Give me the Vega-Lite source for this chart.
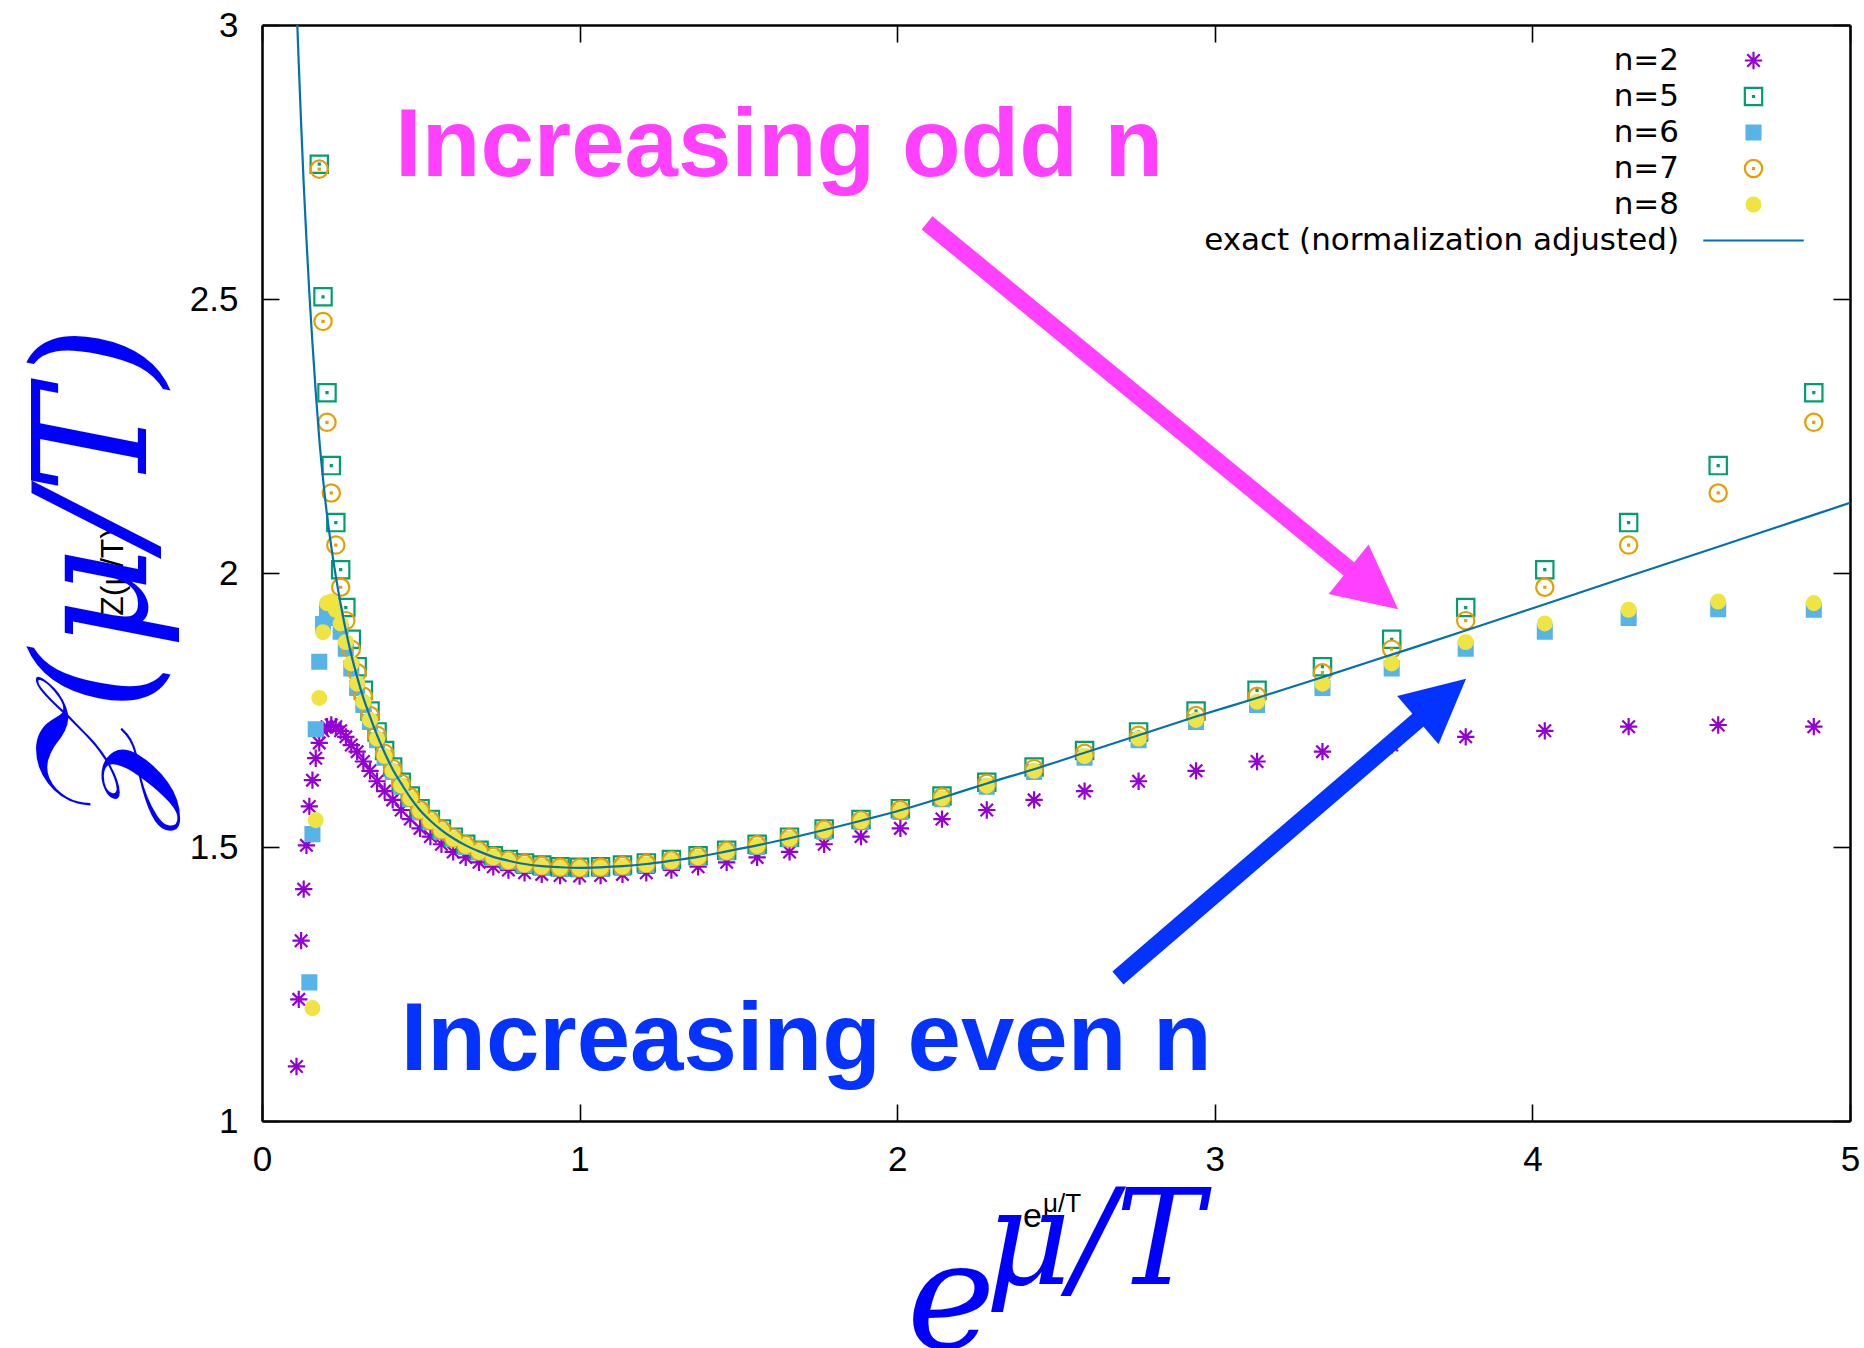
{
"$schema":"https://vega.github.io/schema/vega-lite/v6.json",
"width":1588,"height":1096,
"autosize":{"type":"none"},
"padding":{"left":262,"top":25,"right":14,"bottom":227},
"background":"white",
"config":{"view":{"stroke":null}},
"resolve":{"axis":{"x":"independent","y":"independent"}},
"encoding":{
 "x":{"field":"x","type":"quantitative","scale":{"domain":[0,5],"nice":false,"zero":false},"axis":null},
 "y":{"field":"y","type":"quantitative","scale":{"domain":[1,3],"nice":false,"zero":false},"axis":null}
},
"datasets":{
"pts":[
{"series":"n=2","x":4.886,"y":1.7195},{"series":"n=2","x":4.585,"y":1.7226},{"series":"n=2","x":4.303,"y":1.7195},{"series":"n=2","x":4.039,"y":1.712},{"series":"n=2","x":3.790,"y":1.701},{"series":"n=2","x":3.557,"y":1.686},{"series":"n=2","x":3.339,"y":1.674},{"series":"n=2","x":3.133,"y":1.656},{"series":"n=2","x":2.941,"y":1.639},{"series":"n=2","x":2.760,"y":1.620},{"series":"n=2","x":2.590,"y":1.602},{"series":"n=2","x":2.431,"y":1.586},{"series":"n=2","x":2.282,"y":1.5675},{"series":"n=2","x":2.141,"y":1.551},{"series":"n=2","x":2.010,"y":1.534},{"series":"n=2","x":1.886,"y":1.519},{"series":"n=2","x":1.770,"y":1.505},{"series":"n=2","x":1.661,"y":1.491},{"series":"n=2","x":1.559,"y":1.481},{"series":"n=2","x":1.463,"y":1.472},{"series":"n=2","x":1.373,"y":1.464},{"series":"n=2","x":1.289,"y":1.458},{"series":"n=2","x":1.210,"y":1.453},{"series":"n=2","x":1.135,"y":1.450},{"series":"n=2","x":1.066,"y":1.448},{"series":"n=2","x":1.000,"y":1.447},{"series":"n=2","x":0.9385,"y":1.448},{"series":"n=2","x":0.8808,"y":1.450},{"series":"n=2","x":0.8267,"y":1.453},{"series":"n=2","x":0.7759,"y":1.458},{"series":"n=2","x":0.7282,"y":1.464},{"series":"n=2","x":0.6834,"y":1.472},{"series":"n=2","x":0.6414,"y":1.481},{"series":"n=2","x":0.6020,"y":1.491},{"series":"n=2","x":0.5650,"y":1.505},{"series":"n=2","x":0.5302,"y":1.519},{"series":"n=2","x":0.4976,"y":1.534},{"series":"n=2","x":0.4670,"y":1.551},{"series":"n=2","x":0.4383,"y":1.5675},{"series":"n=2","x":0.4114,"y":1.586},{"series":"n=2","x":0.3861,"y":1.602},{"series":"n=2","x":0.3623,"y":1.620},{"series":"n=2","x":0.3401,"y":1.639},{"series":"n=2","x":0.3192,"y":1.656},{"series":"n=2","x":0.2996,"y":1.674},{"series":"n=2","x":0.2812,"y":1.686},{"series":"n=2","x":0.2639,"y":1.701},{"series":"n=2","x":0.2477,"y":1.712},{"series":"n=2","x":0.2324,"y":1.7195},{"series":"n=2","x":0.2181,"y":1.7226},{"series":"n=2","x":0.2047,"y":1.7195},{"series":"n=2","x":0.1921,"y":1.712},{"series":"n=2","x":0.1803,"y":1.690},{"series":"n=2","x":0.1692,"y":1.662},{"series":"n=2","x":0.1588,"y":1.622},{"series":"n=2","x":0.1491,"y":1.574},{"series":"n=2","x":0.1399,"y":1.503},{"series":"n=2","x":0.1313,"y":1.423},{"series":"n=2","x":0.1232,"y":1.329},{"series":"n=2","x":0.1157,"y":1.222},{"series":"n=2","x":0.1086,"y":1.0995},
{"series":"n=5","x":4.886,"y":2.329},{"series":"n=5","x":4.585,"y":2.196},{"series":"n=5","x":4.303,"y":2.092},{"series":"n=5","x":4.039,"y":2.006},{"series":"n=5","x":3.790,"y":1.937},{"series":"n=5","x":3.557,"y":1.879},{"series":"n=5","x":3.339,"y":1.829},{"series":"n=5","x":3.133,"y":1.786},{"series":"n=5","x":2.941,"y":1.748},{"series":"n=5","x":2.760,"y":1.710},{"series":"n=5","x":2.590,"y":1.676},{"series":"n=5","x":2.431,"y":1.646},{"series":"n=5","x":2.282,"y":1.618},{"series":"n=5","x":2.141,"y":1.593},{"series":"n=5","x":2.010,"y":1.570},{"series":"n=5","x":1.886,"y":1.550},{"series":"n=5","x":1.770,"y":1.533},{"series":"n=5","x":1.661,"y":1.518},{"series":"n=5","x":1.559,"y":1.505},{"series":"n=5","x":1.463,"y":1.494},{"series":"n=5","x":1.373,"y":1.484},{"series":"n=5","x":1.289,"y":1.477},{"series":"n=5","x":1.210,"y":1.471},{"series":"n=5","x":1.135,"y":1.467},{"series":"n=5","x":1.066,"y":1.464},{"series":"n=5","x":1.000,"y":1.463},{"series":"n=5","x":0.9385,"y":1.464},{"series":"n=5","x":0.8808,"y":1.467},{"series":"n=5","x":0.8267,"y":1.471},{"series":"n=5","x":0.7759,"y":1.477},{"series":"n=5","x":0.7282,"y":1.484},{"series":"n=5","x":0.6834,"y":1.494},{"series":"n=5","x":0.6414,"y":1.505},{"series":"n=5","x":0.6020,"y":1.518},{"series":"n=5","x":0.5650,"y":1.533},{"series":"n=5","x":0.5302,"y":1.550},{"series":"n=5","x":0.4976,"y":1.570},{"series":"n=5","x":0.4670,"y":1.593},{"series":"n=5","x":0.4383,"y":1.618},{"series":"n=5","x":0.4114,"y":1.646},{"series":"n=5","x":0.3861,"y":1.676},{"series":"n=5","x":0.3623,"y":1.710},{"series":"n=5","x":0.3401,"y":1.748},{"series":"n=5","x":0.3192,"y":1.786},{"series":"n=5","x":0.2996,"y":1.829},{"series":"n=5","x":0.2812,"y":1.879},{"series":"n=5","x":0.2639,"y":1.937},{"series":"n=5","x":0.2477,"y":2.006},{"series":"n=5","x":0.2324,"y":2.092},{"series":"n=5","x":0.2181,"y":2.196},{"series":"n=5","x":0.2047,"y":2.329},{"series":"n=5","x":0.1921,"y":2.504},{"series":"n=5","x":0.1803,"y":2.746},
{"series":"n=6","x":4.886,"y":1.933},{"series":"n=6","x":4.585,"y":1.934},{"series":"n=6","x":4.303,"y":1.918},{"series":"n=6","x":4.039,"y":1.893},{"series":"n=6","x":3.790,"y":1.862},{"series":"n=6","x":3.557,"y":1.826},{"series":"n=6","x":3.339,"y":1.790},{"series":"n=6","x":3.133,"y":1.759},{"series":"n=6","x":2.941,"y":1.728},{"series":"n=6","x":2.760,"y":1.695},{"series":"n=6","x":2.590,"y":1.663},{"series":"n=6","x":2.431,"y":1.637},{"series":"n=6","x":2.282,"y":1.610},{"series":"n=6","x":2.141,"y":1.587},{"series":"n=6","x":2.010,"y":1.564},{"series":"n=6","x":1.886,"y":1.545},{"series":"n=6","x":1.770,"y":1.528},{"series":"n=6","x":1.661,"y":1.514},{"series":"n=6","x":1.559,"y":1.500},{"series":"n=6","x":1.463,"y":1.490},{"series":"n=6","x":1.373,"y":1.480},{"series":"n=6","x":1.289,"y":1.473},{"series":"n=6","x":1.210,"y":1.467},{"series":"n=6","x":1.135,"y":1.463},{"series":"n=6","x":1.066,"y":1.461},{"series":"n=6","x":1.000,"y":1.460},{"series":"n=6","x":0.9385,"y":1.461},{"series":"n=6","x":0.8808,"y":1.463},{"series":"n=6","x":0.8267,"y":1.467},{"series":"n=6","x":0.7759,"y":1.473},{"series":"n=6","x":0.7282,"y":1.480},{"series":"n=6","x":0.6834,"y":1.490},{"series":"n=6","x":0.6414,"y":1.500},{"series":"n=6","x":0.6020,"y":1.514},{"series":"n=6","x":0.5650,"y":1.528},{"series":"n=6","x":0.5302,"y":1.545},{"series":"n=6","x":0.4976,"y":1.564},{"series":"n=6","x":0.4670,"y":1.587},{"series":"n=6","x":0.4383,"y":1.610},{"series":"n=6","x":0.4114,"y":1.637},{"series":"n=6","x":0.3861,"y":1.663},{"series":"n=6","x":0.3623,"y":1.695},{"series":"n=6","x":0.3401,"y":1.728},{"series":"n=6","x":0.3192,"y":1.759},{"series":"n=6","x":0.2996,"y":1.790},{"series":"n=6","x":0.2812,"y":1.826},{"series":"n=6","x":0.2639,"y":1.862},{"series":"n=6","x":0.2477,"y":1.893},{"series":"n=6","x":0.2324,"y":1.918},{"series":"n=6","x":0.2181,"y":1.934},{"series":"n=6","x":0.2047,"y":1.933},{"series":"n=6","x":0.1921,"y":1.907},{"series":"n=6","x":0.1803,"y":1.838},{"series":"n=6","x":0.1692,"y":1.715},{"series":"n=6","x":0.1588,"y":1.5235},{"series":"n=6","x":0.1491,"y":1.253},
{"series":"n=7","x":4.886,"y":2.275},{"series":"n=7","x":4.585,"y":2.146},{"series":"n=7","x":4.303,"y":2.051},{"series":"n=7","x":4.039,"y":1.974},{"series":"n=7","x":3.790,"y":1.913},{"series":"n=7","x":3.557,"y":1.861},{"series":"n=7","x":3.339,"y":1.818},{"series":"n=7","x":3.133,"y":1.775},{"series":"n=7","x":2.941,"y":1.740},{"series":"n=7","x":2.760,"y":1.704},{"series":"n=7","x":2.590,"y":1.671},{"series":"n=7","x":2.431,"y":1.643},{"series":"n=7","x":2.282,"y":1.616},{"series":"n=7","x":2.141,"y":1.591},{"series":"n=7","x":2.010,"y":1.568},{"series":"n=7","x":1.886,"y":1.549},{"series":"n=7","x":1.770,"y":1.532},{"series":"n=7","x":1.661,"y":1.517},{"series":"n=7","x":1.559,"y":1.504},{"series":"n=7","x":1.463,"y":1.493},{"series":"n=7","x":1.373,"y":1.483},{"series":"n=7","x":1.289,"y":1.476},{"series":"n=7","x":1.210,"y":1.470},{"series":"n=7","x":1.135,"y":1.466},{"series":"n=7","x":1.066,"y":1.463},{"series":"n=7","x":1.000,"y":1.462},{"series":"n=7","x":0.9385,"y":1.463},{"series":"n=7","x":0.8808,"y":1.466},{"series":"n=7","x":0.8267,"y":1.470},{"series":"n=7","x":0.7759,"y":1.476},{"series":"n=7","x":0.7282,"y":1.483},{"series":"n=7","x":0.6834,"y":1.493},{"series":"n=7","x":0.6414,"y":1.504},{"series":"n=7","x":0.6020,"y":1.517},{"series":"n=7","x":0.5650,"y":1.532},{"series":"n=7","x":0.5302,"y":1.549},{"series":"n=7","x":0.4976,"y":1.568},{"series":"n=7","x":0.4670,"y":1.591},{"series":"n=7","x":0.4383,"y":1.616},{"series":"n=7","x":0.4114,"y":1.643},{"series":"n=7","x":0.3861,"y":1.671},{"series":"n=7","x":0.3623,"y":1.704},{"series":"n=7","x":0.3401,"y":1.740},{"series":"n=7","x":0.3192,"y":1.775},{"series":"n=7","x":0.2996,"y":1.818},{"series":"n=7","x":0.2812,"y":1.861},{"series":"n=7","x":0.2639,"y":1.913},{"series":"n=7","x":0.2477,"y":1.974},{"series":"n=7","x":0.2324,"y":2.051},{"series":"n=7","x":0.2181,"y":2.146},{"series":"n=7","x":0.2047,"y":2.275},{"series":"n=7","x":0.1921,"y":2.459},{"series":"n=7","x":0.1803,"y":2.737},
{"series":"n=8","x":4.886,"y":1.945},{"series":"n=8","x":4.585,"y":1.948},{"series":"n=8","x":4.303,"y":1.933},{"series":"n=8","x":4.039,"y":1.908},{"series":"n=8","x":3.790,"y":1.874},{"series":"n=8","x":3.557,"y":1.835},{"series":"n=8","x":3.339,"y":1.798},{"series":"n=8","x":3.133,"y":1.765},{"series":"n=8","x":2.941,"y":1.732},{"series":"n=8","x":2.760,"y":1.698},{"series":"n=8","x":2.590,"y":1.666},{"series":"n=8","x":2.431,"y":1.639},{"series":"n=8","x":2.282,"y":1.612},{"series":"n=8","x":2.141,"y":1.589},{"series":"n=8","x":2.010,"y":1.566},{"series":"n=8","x":1.886,"y":1.547},{"series":"n=8","x":1.770,"y":1.530},{"series":"n=8","x":1.661,"y":1.515},{"series":"n=8","x":1.559,"y":1.502},{"series":"n=8","x":1.463,"y":1.491},{"series":"n=8","x":1.373,"y":1.481},{"series":"n=8","x":1.289,"y":1.474},{"series":"n=8","x":1.210,"y":1.468},{"series":"n=8","x":1.135,"y":1.464},{"series":"n=8","x":1.066,"y":1.462},{"series":"n=8","x":1.000,"y":1.461},{"series":"n=8","x":0.9385,"y":1.462},{"series":"n=8","x":0.8808,"y":1.464},{"series":"n=8","x":0.8267,"y":1.468},{"series":"n=8","x":0.7759,"y":1.474},{"series":"n=8","x":0.7282,"y":1.481},{"series":"n=8","x":0.6834,"y":1.491},{"series":"n=8","x":0.6414,"y":1.502},{"series":"n=8","x":0.6020,"y":1.515},{"series":"n=8","x":0.5650,"y":1.530},{"series":"n=8","x":0.5302,"y":1.547},{"series":"n=8","x":0.4976,"y":1.566},{"series":"n=8","x":0.4670,"y":1.589},{"series":"n=8","x":0.4383,"y":1.612},{"series":"n=8","x":0.4114,"y":1.639},{"series":"n=8","x":0.3861,"y":1.666},{"series":"n=8","x":0.3623,"y":1.698},{"series":"n=8","x":0.3401,"y":1.732},{"series":"n=8","x":0.3192,"y":1.765},{"series":"n=8","x":0.2996,"y":1.798},{"series":"n=8","x":0.2812,"y":1.835},{"series":"n=8","x":0.2639,"y":1.874},{"series":"n=8","x":0.2477,"y":1.908},{"series":"n=8","x":0.2324,"y":1.933},{"series":"n=8","x":0.2181,"y":1.948},{"series":"n=8","x":0.2047,"y":1.945},{"series":"n=8","x":0.1921,"y":1.892},{"series":"n=8","x":0.1803,"y":1.772},{"series":"n=8","x":0.1692,"y":1.549},{"series":"n=8","x":0.1588,"y":1.206}
],
"exact":[
{"x":0.1086,"y":3.04},{"x":0.1157,"y":2.93},{"x":0.1232,"y":2.82},{"x":0.1313,"y":2.71},{"x":0.1399,"y":2.61},{"x":0.1491,"y":2.51},{"x":0.1588,"y":2.42},{"x":0.1692,"y":2.33},{"x":0.1803,"y":2.245},{"x":0.1921,"y":2.172},{"x":0.2047,"y":2.106},{"x":0.2181,"y":2.048},{"x":0.2324,"y":1.994},{"x":0.2477,"y":1.943},{"x":0.2639,"y":1.895},{"x":0.2812,"y":1.851},{"x":0.2996,"y":1.810},{"x":0.3192,"y":1.772},{"x":0.3401,"y":1.738},{"x":0.3623,"y":1.704},{"x":0.3861,"y":1.672},{"x":0.4114,"y":1.642},{"x":0.4383,"y":1.616},{"x":0.4670,"y":1.590},{"x":0.4976,"y":1.567},{"x":0.5302,"y":1.548},{"x":0.5650,"y":1.531},{"x":0.6020,"y":1.516},{"x":0.6414,"y":1.503},{"x":0.6834,"y":1.492},{"x":0.7282,"y":1.482},{"x":0.7759,"y":1.475},{"x":0.8267,"y":1.469},{"x":0.8808,"y":1.465},{"x":0.9385,"y":1.463},{"x":1.0,"y":1.462},{"x":1.066,"y":1.463},{"x":1.135,"y":1.465},{"x":1.210,"y":1.469},{"x":1.289,"y":1.475},{"x":1.373,"y":1.482},{"x":1.463,"y":1.492},{"x":1.559,"y":1.503},{"x":1.661,"y":1.516},{"x":1.770,"y":1.531},{"x":1.886,"y":1.548},{"x":2.010,"y":1.567},{"x":2.141,"y":1.590},{"x":2.282,"y":1.616},{"x":2.431,"y":1.642},{"x":2.590,"y":1.672},{"x":2.760,"y":1.704},{"x":2.941,"y":1.738},{"x":3.133,"y":1.772},{"x":3.339,"y":1.810},{"x":3.557,"y":1.851},{"x":3.790,"y":1.895},{"x":4.039,"y":1.943},{"x":4.303,"y":1.994},{"x":4.585,"y":2.048},{"x":4.886,"y":2.106},{"x":5.0,"y":2.128}
]
},
"layer":[
{
 "data":{"name":"pts"},
 "mark":{"type":"point","filled":false,"size":300,"strokeWidth":2.2,"opacity":1},
 "encoding":{
  "x":{"field":"x","type":"quantitative","scale":{"domain":[0,5],"nice":false,"zero":false},
       "axis":{"orient":"top","values":[0,1,2,3,4,5],"labels":false,"ticks":true,"tickSize":-17,"tickWidth":1.6,"tickColor":"#000000","domain":true,"domainColor":"#000000","domainWidth":2.5,"grid":false,"title":null}},
  "y":{"field":"y","type":"quantitative","scale":{"domain":[1,3],"nice":false,"zero":false},
       "axis":{"orient":"right","values":[1,1.5,2,2.5,3],"labels":false,"ticks":true,"tickSize":-17,"tickWidth":1.6,"tickColor":"#000000","domain":true,"domainColor":"#000000","domainWidth":2.5,"grid":false,"title":null}},
  "color":{"field":"series","type":"nominal",
    "scale":{"domain":["n=2","n=5","n=6","n=7","n=8","exact (normalization adjusted)"],"range":["#9400d3","#009e73","#56b4e9","#e69f00","#f0e442","#0072b2"]},
    "legend":{"title":null,"orient":"none","legendX":1476,"legendY":20,"labelAlign":"right","labelOffset":-90,"labelFont":"DejaVu Sans","labelFontSize":31,"labelColor":"#000000","labelLimit":2000,"symbolSize":300,"symbolStrokeWidth":2.2,"rowPadding":4,"padding":0}},
  "fill":{"field":"series","type":"nominal",
    "scale":{"domain":["n=2","n=5","n=6","n=7","n=8","exact (normalization adjusted)"],"range":["transparent","transparent","#56b4e9","transparent","#f0e442","transparent"]},
    "legend":{"title":null,"orient":"none","legendX":1476,"legendY":20,"labelAlign":"right","labelOffset":-90,"labelFont":"DejaVu Sans","labelFontSize":31,"labelColor":"#000000","labelLimit":2000,"symbolSize":300,"symbolStrokeWidth":2.2,"rowPadding":4,"padding":0}},
  "shape":{"field":"series","type":"nominal",
    "scale":{"domain":["n=2","n=5","n=6","n=7","n=8","exact (normalization adjusted)"],
      "range":["M-1,0H1M0,-1V1M-0.72,-0.72L0.72,0.72M-0.72,0.72L0.72,-0.72",
               "M-1,-1H1V1H-1ZM-0.06,-0.06H0.06V0.06H-0.06Z",
               "M-0.8,-0.8H0.8V0.8H-0.8Z",
               "M1,0A1,1,0,1,1,-1,0A1,1,0,1,1,1,0ZM-0.06,-0.06H0.06V0.06H-0.06Z",
               "M0.8,0A0.8,0.8,0,1,1,-0.8,0A0.8,0.8,0,1,1,0.8,0Z",
               "M-5.8,0H5.8"]},
    "legend":{"title":null,"orient":"none","legendX":1476,"legendY":20,"labelAlign":"right","labelOffset":-90,"labelFont":"DejaVu Sans","labelFontSize":31,"labelColor":"#000000","labelLimit":2000,"symbolSize":300,"symbolStrokeWidth":2.2,"rowPadding":4,"padding":0}}
 }
},
{
 "data":{"name":"exact"},
 "mark":{"type":"line","color":"#0072b2","strokeWidth":2.2,"clip":true,"interpolate":"monotone"},
 "encoding":{
  "x":{"field":"x","type":"quantitative","scale":{"domain":[0,5],"nice":false,"zero":false},
       "axis":{"orient":"bottom","values":[0,1,2,3,4,5],"format":"d","labelFont":"Liberation Sans","labelFontSize":35,"labelColor":"#000000","labelPadding":38,"labelFlush":false,"tickSize":-17,"tickWidth":1.6,"tickColor":"#000000","domainColor":"#000000","domainWidth":2.5,"grid":false,"title":null}},
  "y":{"field":"y","type":"quantitative","scale":{"domain":[1,3],"nice":false,"zero":false},
       "axis":{"orient":"left","values":[1,1.5,2,2.5,3],"format":"~g","labelFont":"Liberation Sans","labelFontSize":35,"labelColor":"#000000","labelPadding":41,"labelFlush":false,"tickSize":-17,"tickWidth":1.6,"tickColor":"#000000","domainColor":"#000000","domainWidth":2.5,"grid":false,"title":null}}
 }
},
{
 "data":{"values":[{"x":2.094,"y":2.639,"x2":3.503,"y2":1.969}]},
 "mark":{"type":"rule","color":"#ff40ff","strokeWidth":17,"strokeCap":"butt"},
 "encoding":{"x2":{"field":"x2"},"y2":{"field":"y2"}}
},
{
 "data":{"values":[{"x":3.577,"y":1.934}]},
 "mark":{"type":"point","shape":"M0,0L-2,-1L-2,1Z","size":4032,"angle":38.9,"filled":true,"color":"#ff40ff","opacity":1,"strokeWidth":0}
},
{
 "data":{"values":[{"x":2.695,"y":1.261,"x2":3.719,"y2":1.771}]},
 "mark":{"type":"rule","color":"#0433ff","strokeWidth":17,"strokeCap":"butt"},
 "encoding":{"x2":{"field":"x2"},"y2":{"field":"y2"}}
},
{
 "data":{"values":[{"x":3.791,"y":1.807}]},
 "mark":{"type":"point","shape":"M0,0L-2,-1L-2,1Z","size":4032,"angle":-40.7,"filled":true,"color":"#0433ff","opacity":1,"strokeWidth":0}
},
{
 "data":{"values":[{"x":0.419,"y":2.7245,"t":"Increasing odd n"}]},
 "mark":{"type":"text","align":"left","baseline":"alphabetic","font":"Liberation Sans","fontWeight":"bold","fontSize":96,"color":"#ff40ff"},
 "encoding":{"text":{"field":"t"}}
},
{
 "data":{"values":[{"x":0.4365,"y":1.093,"t":"Increasing even n"}]},
 "mark":{"type":"text","align":"left","baseline":"alphabetic","font":"Liberation Sans","fontWeight":"bold","fontSize":96,"color":"#0433ff"},
 "encoding":{"text":{"field":"t"}}
},
{
 "data":{"values":[{"x":-0.469,"y":2.002,"t":"Z(μ/T)"}]},
 "mark":{"type":"text","align":"center","baseline":"middle","angle":270,"font":"Liberation Sans","fontSize":32,"color":"#000000"},
 "encoding":{"text":{"field":"t"}}
},
{
 "data":{"values":[{"x":-0.512,"y":1.99,"t":"𝒵(μ/T)"}]},
 "mark":{"type":"text","align":"center","baseline":"middle","angle":270,"font":"DejaVu Serif","fontStyle":"italic","fontSize":158,"color":"#0000ff"},
 "encoding":{"text":{"field":"t"}}
},
{
 "data":{"values":[{"x":2.396,"y":0.807,"t":"e"}]},
 "mark":{"type":"text","align":"left","baseline":"alphabetic","font":"Liberation Sans","fontSize":34,"color":"#000000"},
 "encoding":{"text":{"field":"t"}}
},
{
 "data":{"values":[{"x":2.459,"y":0.8345,"t":"μ/T"}]},
 "mark":{"type":"text","align":"left","baseline":"alphabetic","font":"Liberation Sans","fontSize":26,"color":"#000000"},
 "encoding":{"text":{"field":"t"}}
},
{
 "data":{"values":[{"x":2.03,"y":0.585,"t":"e"}]},
 "mark":{"type":"text","align":"left","baseline":"alphabetic","font":"DejaVu Serif","fontStyle":"italic","fontSize":150,"color":"#0000ff"},
 "encoding":{"text":{"field":"t"}}
},
{
 "data":{"values":[{"x":2.277,"y":0.703,"t":"μ/T"}]},
 "mark":{"type":"text","align":"left","baseline":"alphabetic","font":"DejaVu Serif","fontStyle":"italic","fontSize":132,"color":"#0000ff"},
 "encoding":{"text":{"field":"t"}}
}
]
}
